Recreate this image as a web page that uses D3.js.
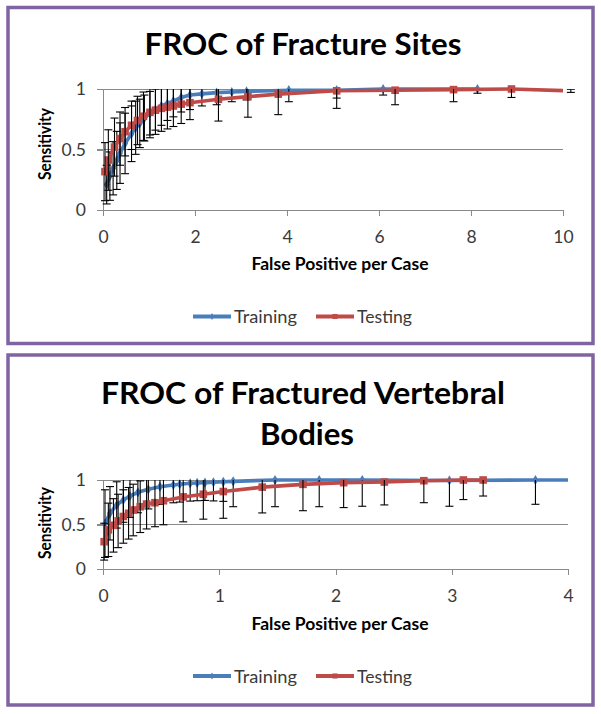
<!DOCTYPE html>
<html><head><meta charset="utf-8">
<script src="https://cdn.jsdelivr.net/npm/d3@7"></script>
<style>body{margin:0;background:#fff}</style>
</head><body><svg id="c" width="601" height="714"></svg>
<script>
// ---------- DATA ----------
const seriesNames = ["Training", "Testing"];
const yTickValues = [0, 0.5, 1];

// Chart 1: FROC of Fracture Sites
const sitesTitle = ["FROC of Fracture Sites"];
const sitesXTicks = [0, 2, 4, 6, 8, 10];
const sitesTrainX   = [0.08, 0.15, 0.22, 0.30, 0.37, 0.48, 0.62, 0.71, 0.80, 0.90, 1.02, 1.14, 1.27, 1.40, 1.53, 1.70, 1.89, 2.15, 2.47, 2.80, 3.12, 4.04, 5.08, 6.09, 8.14];
const sitesTrainY   = [0.21, 0.28, 0.345, 0.41, 0.47, 0.55, 0.63, 0.68, 0.716, 0.76, 0.80, 0.83, 0.86, 0.88, 0.90, 0.93, 0.95, 0.96, 0.97, 0.975, 0.98, 0.99, 0.99, 1.0, 1.0];
const sitesTrainErr = [0.16, 0.20, 0.22, 0.24, 0.25, 0.25, 0.23, 0.22, 0.20, 0.19, 0.18, 0.17, 0.16, 0.14, 0.13, 0.12, 0.12, 0.10, 0.10, 0.08, 0.07, 0.095, 0.065, 0.05, 0.035];
const sitesTestX    = [0.043, 0.116, 0.25, 0.37, 0.48, 0.62, 0.75, 0.88, 1.02, 1.14, 1.27, 1.40, 1.53, 1.70, 1.89, 2.51, 3.15, 3.81, 5.08, 6.35, 7.62, 8.88, 10.17];
const sitesTestY    = [0.317, 0.413, 0.52, 0.59, 0.647, 0.70, 0.74, 0.775, 0.807, 0.825, 0.84, 0.85, 0.86, 0.875, 0.887, 0.915, 0.937, 0.958, 0.985, 0.99, 0.995, 1.0, 0.985];
const sitesTestErr  = [0.24, 0.25, 0.24, 0.22, 0.20, 0.20, 0.20, 0.20, 0.21, 0.20, 0.19, 0.18, 0.17, 0.16, 0.14, 0.18, 0.17, 0.17, 0.145, 0.12, 0.10, 0.07, 0.013];

// Chart 2: FROC of Fractured Vertebral Bodies
const bodiesTitle = ["FROC of Fractured Vertebral", "Bodies"];
const bodiesXTicks = [0, 1, 2, 3, 4];
const bodiesTrainX   = [0.017, 0.06, 0.118, 0.175, 0.232, 0.30, 0.39, 0.49, 0.605, 0.66, 0.75, 0.81, 0.877, 0.95, 1.035, 1.12, 1.48, 1.86, 2.23, 2.98, 3.72, 4.05];
const bodiesTrainY   = [0.51, 0.626, 0.72, 0.775, 0.82, 0.862, 0.895, 0.925, 0.944, 0.952, 0.963, 0.967, 0.97, 0.975, 0.98, 0.985, 1.0, 1.0, 1.0, 0.995, 1.0, 1.0];
const bodiesTrainErr = [0.38, 0.30, 0.26, 0.25, 0.24, 0.23, 0.22, 0.20, 0.20, 0.20, 0.20, 0.20, 0.20, 0.21, 0.22, 0.285, 0.30, 0.30, 0.295, 0.29, 0.273, null];
const bodiesTestX    = [0.01, 0.046, 0.09, 0.13, 0.175, 0.22, 0.26, 0.32, 0.375, 0.447, 0.52, 0.69, 0.863, 1.035, 1.37, 1.72, 2.07, 2.42, 2.76, 3.10, 3.27];
const bodiesTestY    = [0.307, 0.44, 0.49, 0.54, 0.59, 0.626, 0.663, 0.70, 0.73, 0.745, 0.767, 0.81, 0.84, 0.87, 0.92, 0.951, 0.97, 0.977, 0.992, 1.0, 1.0];
const bodiesTestErr  = [0.207, 0.30, 0.30, 0.30, 0.30, 0.29, 0.29, 0.29, 0.28, 0.27, 0.27, 0.28, 0.28, 0.30, 0.29, 0.296, 0.28, 0.257, 0.247, 0.22, 0.18];

// ---------- DRAW ----------
const BLUE = "#4A7EBB", RED = "#BE4B48", PURPLE = "#8064A2", GRID = "#8a8a8a", TXT = "#3a3a3a";
const svg = d3.select("#c");
const FONT = "Lato, 'Open Sans', sans-serif";

function zip(xs, ys, es) { return xs.map((x, i) => ({x, y: ys[i], e: es[i]})); }

function drawPanel(o) {
  const g = svg.append("g");
  g.append("rect").attr("x", o.box[0]).attr("y", o.box[1]).attr("width", o.box[2]).attr("height", o.box[3])
    .attr("fill", "#fff").attr("stroke", PURPLE).attr("stroke-width", 3.5);
  o.title.forEach((t, i) => {
    g.append("text").attr("x", o.titlePos[i][0]).attr("y", o.titlePos[i][1])
      .attr("text-anchor", "middle").attr("font-family", FONT).attr("font-weight", 700)
      .attr("font-size", 30).attr("fill", "#000")
      .attr("textLength", o.titlePos[i][2]).attr("lengthAdjust", "spacingAndGlyphs").text(t);
  });
  const x = d3.scaleLinear().domain([0, o.xMax]).range([o.x0, o.x1]);
  const y = d3.scaleLinear().domain([0, 1]).range([o.yB, o.yT]);
  g.append("g").selectAll("line").data([0.5, 1]).join("line")
    .attr("x1", o.x0 - 6).attr("x2", o.x1).attr("y1", d => y(d)).attr("y2", d => y(d))
    .attr("stroke", GRID).attr("stroke-width", 1).attr("shape-rendering", "crispEdges");
  const ya = g.append("g").attr("transform", `translate(${o.x0},0)`)
    .call(d3.axisLeft(y).tickValues(yTickValues).tickSize(6).tickPadding(11).tickFormat(d3.format("")));
  ya.select(".domain").attr("stroke", GRID).attr("shape-rendering", "crispEdges");
  ya.selectAll(".tick line").attr("stroke", GRID).attr("shape-rendering", "crispEdges");
  ya.selectAll("text").attr("font-family", FONT).attr("font-size", 17.5).attr("fill", TXT);
  const xa = g.append("g").attr("transform", `translate(0,${o.yB})`)
    .call(d3.axisBottom(x).tickValues(o.xTicks).tickSize(6).tickPadding(14.5).tickSizeOuter(0).tickFormat(d3.format("")));
  xa.select(".domain").attr("stroke", GRID).attr("shape-rendering", "crispEdges");
  xa.selectAll(".tick line").attr("stroke", GRID).attr("shape-rendering", "crispEdges");
  xa.selectAll("text").attr("font-family", FONT).attr("font-size", 17.5).attr("fill", TXT);
  g.append("text").attr("x", o.xTitle[0]).attr("y", o.xTitle[1]).attr("text-anchor", "middle")
    .attr("font-family", FONT).attr("font-weight", 700).attr("font-size", 16.5).attr("fill", "#000")
    .attr("textLength", 177).attr("lengthAdjust", "spacingAndGlyphs").text("False Positive per Case");
  g.append("text").attr("transform", `translate(${o.yTitle[0]},${o.yTitle[1]}) rotate(-90)`)
    .attr("text-anchor", "middle").attr("font-family", FONT).attr("font-weight", 700)
    .attr("font-size", 16.5).attr("fill", "#000")
    .attr("textLength", 72).attr("lengthAdjust", "spacingAndGlyphs").text("Sensitivity");

  const cid = "clip" + o.id, eid = "eclip" + o.id;
  const defs = g.append("defs");
  defs.append("clipPath").attr("id", cid).append("rect")
    .attr("x", o.x0 - 5).attr("y", o.yT - 8).attr("width", o.x1 - o.x0 + 5).attr("height", o.yB - o.yT + 16);
  defs.append("clipPath").attr("id", eid).append("rect")
    .attr("x", o.x0 - 10).attr("y", o.yT).attr("width", o.x1 - o.x0 + 30).attr("height", o.yB - o.yT);

  const line = d3.line().x(d => x(d.x)).y(d => y(d.y));
  const series = [
    {name: seriesNames[0], data: o.train, color: BLUE, marker: "diamond"},
    {name: seriesNames[1], data: o.test, color: RED, marker: "square"}
  ];
  series.forEach(s => {
    g.append("path").datum(s.data).attr("d", line).attr("fill", "none")
      .attr("stroke", s.color).attr("stroke-width", 3.6).attr("stroke-linejoin", "round")
      .attr("clip-path", `url(#${cid})`);
    const sym = s.marker === "diamond" ? d3.symbol(d3.symbolDiamond, 30) : d3.symbol(d3.symbolSquare, 58);
    g.append("g").attr("clip-path", `url(#${cid})`).selectAll("path").data(s.data).join("path")
      .attr("d", sym).attr("transform", d => `translate(${x(d.x)},${y(d.y)})`).attr("fill", s.color);
    const eb = g.append("g").attr("clip-path", `url(#${eid})`).attr("stroke", "#000").attr("stroke-width", 1.1)
      .selectAll("g").data(s.data.filter(d => d.e != null)).join("g");
    eb.append("line").attr("x1", d => x(d.x)).attr("x2", d => x(d.x))
      .attr("y1", d => y(d.y - d.e)).attr("y2", d => y(d.y + d.e));
    eb.append("line").attr("x1", d => x(d.x) - 4).attr("x2", d => x(d.x) + 4)
      .attr("y1", d => y(d.y - d.e)).attr("y2", d => y(d.y - d.e));
    eb.append("line").attr("x1", d => x(d.x) - 4).attr("x2", d => x(d.x) + 4)
      .attr("y1", d => y(d.y + d.e)).attr("y2", d => y(d.y + d.e));
  });

  const lg = g.append("g").attr("transform", `translate(0,${o.legY})`);
  const legItems = [
    {name: seriesNames[0], color: BLUE, x: 193, tl: 63, sym: d3.symbol(d3.symbolDiamond, 14)},
    {name: seriesNames[1], color: RED, x: 316, tl: 55, sym: d3.symbol(d3.symbolSquare, 26)}
  ];
  legItems.forEach(it => {
    lg.append("line").attr("x1", it.x).attr("x2", it.x + 38).attr("y1", 0).attr("y2", 0)
      .attr("stroke", it.color).attr("stroke-width", 4);
    lg.append("path").attr("d", it.sym).attr("transform", `translate(${it.x + 19},0)`).attr("fill", it.color);
    lg.append("text").attr("x", it.x + 41).attr("y", 6.5).attr("font-family", FONT).attr("font-size", 17.5)
      .attr("fill", TXT).attr("textLength", it.tl).attr("lengthAdjust", "spacingAndGlyphs").text(it.name);
  });
}

drawPanel({
  id: 1, box: [8, 7.5, 585, 336], title: sitesTitle, titlePos: [[303, 55, 317]],
  x0: 103, x1: 563, yT: 89, yB: 210, xMax: 10, xTicks: sitesXTicks,
  xTitle: [340, 270], yTitle: [51, 144], legY: 316.5,
  train: zip(sitesTrainX, sitesTrainY, sitesTrainErr),
  test: zip(sitesTestX, sitesTestY, sitesTestErr)
});
drawPanel({
  id: 2, box: [8, 355, 585, 350], title: bodiesTitle, titlePos: [[303, 404, 404], [307, 445, 94]],
  x0: 103, x1: 568, yT: 480, yB: 569, xMax: 4, xTicks: bodiesXTicks,
  xTitle: [340, 630], yTitle: [51, 523], legY: 676,
  train: zip(bodiesTrainX, bodiesTrainY, bodiesTrainErr),
  test: zip(bodiesTestX, bodiesTestY, bodiesTestErr)
});
</script></body></html>
